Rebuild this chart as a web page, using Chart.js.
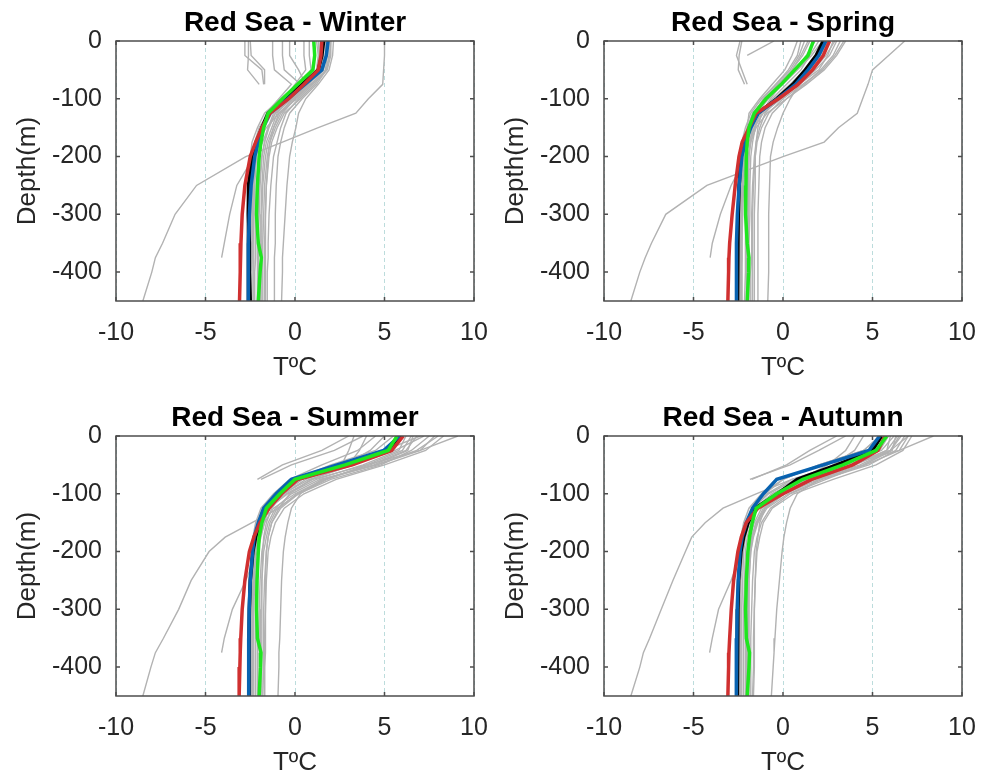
<!DOCTYPE html>
<html>
<head>
<meta charset="utf-8">
<script src="https://cdn.jsdelivr.net/npm/chart.js@4/dist/chart.umd.min.js"></script>
<style>
  body { margin: 0; background: #fff; width: 992px; height: 776px; position: relative; overflow: hidden; }
  canvas { position: absolute; }
</style>
</head>
<body>
<canvas id="winter" width="496" height="388" style="left:0;top:0"></canvas>
<canvas id="spring" width="496" height="388" style="left:488px;top:0"></canvas>
<canvas id="summer" width="496" height="388" style="left:0;top:395px"></canvas>
<canvas id="autumn" width="496" height="388" style="left:488px;top:395px"></canvas>
<script>
// depth levels (m) shared by every profile
const depths = [0, -25, -50, -75, -100, -125, -150, -175, -200, -250, -300, -350, -375, -400, -450];
const tempTicks = [-10, -5, 0, 5, 10];
const depthTicks = [0, -100, -200, -300, -400];

// Winter
const winterBlack = [1.6, 1.5, 1.3, 0.4, -0.55, -1.5, -1.85, -2.15, -2.4, -2.6, -2.6, -2.55, -2.55, -2.55, -2.5];
const winterBlue = [1.85, 1.75, 1.5, 0.55, -0.4, -1.4, -1.8, -2.05, -2.25, -2.45, -2.55, -2.6, -2.6, -2.6, -2.62];
const winterRed = [1.5, 1.45, 1.3, 0.5, -0.35, -1.4, -1.85, -2.2, -2.5, -2.8, -2.95, -3.02, -3.05, -3.07, -3.1];
const winterGreen = [1.05, 1.1, 1.0, 0.15, -0.7, -1.5, -1.75, -1.9, -2.0, -2.1, -2.15, -2.05, -1.88, -1.95, -2.05];
const winterGrey = [
  [5.0, 5.0, 4.95, 4.9, 4.1, 3.4, 1.3, -0.7, -2.75, -5.5, -6.7, -7.4, -7.8, -8.0, -8.5],
  [-2.8, -2.8, -1.85, -1.75, null, null, null, null, null, null, null, null, null, null, null],
  [-2.5, -2.45, -1.7, -1.7, null, null, null, null, null, null, null, null, null, null, null],
  [-2.6, -2.6, -2.65, -2.0, null, null, null, null, null, null, null, null, null, null, null],
  [-1.25, -1.25, -1.15, -0.2, -0.9, -1.6, -1.9, -2.1, -2.2, -2.3, -2.3, -2.35, -2.35, -2.35, -2.35],
  [-0.7, -0.7, -0.6, 0.3, -0.5, -1.3, -1.7, -1.9, -2.05, -2.15, -2.2, -2.2, -2.2, -2.25, -2.25],
  [-0.3, -0.3, 0.2, 0.6, -0.2, -1.1, -1.5, -1.7, -1.85, -1.95, -2.0, -2.05, -2.05, -2.05, -2.1],
  [1.2, 1.3, 1.2, 0.5, -0.3, -1.0, -1.3, -1.6, -1.75, -1.85, -1.9, -1.9, -1.9, -1.9, -1.95],
  [1.5, 1.5, 1.4, 0.8, 0.0, -0.7, -1.1, -1.4, -1.55, -1.7, -1.75, -1.8, -1.8, -1.8, -1.8],
  [2.0, 2.0, 1.8, 1.0, 0.2, -0.5, -0.8, -1.0, -1.2, -1.35, -1.45, -1.5, -1.5, -1.55, -1.55],
  [2.15, 2.1, 1.9, 1.3, 0.6, 0.2, 0.05, -0.15, -0.3, -0.45, -0.55, -0.65, -0.7, -0.7, -0.75],
  [1.7, 1.7, 1.6, 0.9, 0.1, -0.9, -1.6, -2.1, -2.4, -2.6, -2.7, -2.7, -2.7, -2.7, -2.7],
  [1.0, 1.1, 1.0, 0.2, -0.8, -1.7, -2.1, -2.4, -2.5, -2.55, -2.5, -2.5, -2.5, -2.5, -2.5],
  [1.4, 1.4, 1.3, 0.5, -0.3, -1.2, -1.5, -1.8, -2.3, -3.25, -3.65, -3.95, -4.1, null, null],
  [1.8, 1.8, 1.7, 1.1, 0.3, -0.6, -1.0, -1.3, -1.45, -1.6, -1.65, -1.7, -1.7, -1.7, -1.7],
  [0.5, 0.5, 0.6, 0.0, -0.6, -1.4, -1.9, -2.2, -2.3, -2.35, -2.4, -2.4, -2.4, -2.45, -2.45],
  [1.6, 1.6, 1.5, 0.7, -0.1, -0.9, -1.2, -1.4, -1.5, -1.6, -1.65, -1.65, -1.65, -1.65, -1.65],
  [1.9, 1.9, 1.75, 1.2, 0.4, -0.3, -0.6, -0.8, -0.95, -1.05, -1.1, -1.1, -1.15, -1.15, -1.15],
  [1.3, 1.35, 1.3, 0.6, -0.2, -1.1, -1.45, -1.7, -1.85, -2.0, -2.05, -2.1, -2.1, -2.1, -2.1],
  [1.75, 1.75, 1.55, 0.75, -0.1, -1.3, -1.75, -2.0, -2.15, -2.25, -2.3, -2.3, -2.3, -2.3, -2.3],
  [0.8, 0.8, 0.9, 0.3, -0.5, -1.5, -2.0, -2.25, -2.35, -2.45, -2.45, -2.45, -2.45, -2.5, -2.5],
  [2.0, 1.95, 1.75, 0.9, 0.0, -0.8, -1.2, -1.5, -1.65, -1.8, -1.85, -1.85, -1.9, -1.9, -1.9]
];

// Spring
const springBlack = [2.25, 1.85, 1.25, 0.55, -0.35, -1.4, -1.85, -2.2, -2.35, -2.45, -2.5, -2.52, -2.52, -2.55, -2.55];
const springBlue = [2.4, 2.0, 1.4, 0.7, -0.3, -1.4, -1.8, -2.1, -2.3, -2.45, -2.55, -2.6, -2.6, -2.6, -2.6];
const springRed = [2.6, 2.25, 1.65, 0.85, -0.25, -1.5, -1.9, -2.28, -2.46, -2.67, -2.84, -2.98, -3.02, -3.04, -3.08];
const springGreen = [1.7, 1.4, 0.65, -0.1, -0.95, -1.6, -1.9, -2.0, -2.05, -2.07, -2.09, -2.0, -1.9, -1.92, -2.0];
const springGrey = [
  [6.8, 5.9, 5.0, 4.75, 4.45, 4.15, 3.1, 2.3, 0.0, -4.25, -6.55, -7.35, -7.7, -8.0, -8.5],
  [1.0, 0.8, 0.3, -0.4, -1.1, -1.6, -1.8, -1.95, -2.05, -2.9, -3.5, -3.95, -4.07, null, null],
  [2.8, 2.5, 2.0, 0.9, 0.4, 0.0, -0.3, -0.55, -0.7, -0.75, -0.8, -0.8, -0.8, -0.8, -0.85],
  [3.5, 3.0, 2.3, 1.3, 0.2, -0.9, -1.5, -1.8, -1.95, -2.05, -2.1, -2.1, -2.1, -2.1, -2.15],
  [3.0, 2.6, 1.8, 0.9, -0.1, -1.1, -1.6, -1.9, -2.1, -2.2, -2.25, -2.3, -2.3, -2.3, -2.3],
  [2.2, 1.6, 0.8, 0.0, -0.8, -1.5, -1.9, -2.1, -2.25, -2.35, -2.4, -2.4, -2.4, -2.4, -2.4],
  [1.2, 0.9, 0.4, -0.4, -1.2, -1.8, -2.1, -2.3, -2.4, -2.5, -2.55, -2.55, -2.55, -2.55, -2.55],
  [0.8, 0.5, 0.1, -0.6, -1.3, -1.9, -2.0, -2.1, -2.2, -2.3, -2.3, -2.3, -2.3, -2.35, -2.35],
  [2.5, 2.1, 1.5, 0.6, -0.3, -1.0, -1.3, -1.5, -1.6, -1.7, -1.75, -1.75, -1.75, -1.8, -1.8],
  [1.8, 1.3, 0.7, -0.1, -0.7, -1.2, -1.4, -1.5, -1.55, -1.55, -1.6, -1.6, -1.6, -1.6, -1.6],
  [3.2, 2.8, 2.1, 1.2, 0.2, -0.6, -1.0, -1.2, -1.3, -1.35, -1.4, -1.4, -1.4, -1.4, -1.4],
  [-2.3, -2.45, -2.5, -2.15, null, null, null, null, null, null, null, null, null, null, null],
  [-2.4, -2.6, -2.3, -2.0, null, null, null, null, null, null, null, null, null, null, null],
  [-0.5, -2.0, null, null, null, null, null, null, null, null, null, null, null, null, null],
  [1.5, 1.1, 0.5, -0.2, -1.0, -1.6, -1.95, -2.15, -2.25, -2.3, -2.35, -2.4, -2.4, -2.4, -2.4],
  [2.6, 2.2, 1.6, 0.7, -0.5, -1.4, -1.7, -1.85, -1.9, -1.95, -1.95, -1.95, -1.95, -1.95, -1.95],
  [2.9, 2.4, 1.7, 0.8, -0.2, -1.2, -1.7, -2.0, -2.15, -2.25, -2.3, -2.3, -2.3, -2.3, -2.3],
  [2.0, 1.5, 1.0, 0.2, -0.6, -1.3, -1.6, -1.8, -1.9, -2.0, -2.0, -2.0, -2.05, -2.05, -2.05],
  [3.4, 2.9, 2.2, 1.1, 0.0, -0.8, -1.2, -1.45, -1.55, -1.65, -1.7, -1.7, -1.7, -1.7, -1.7],
  [1.4, 1.0, 0.5, -0.3, -1.0, -1.7, -2.0, -2.2, -2.3, -2.4, -2.45, -2.45, -2.45, -2.45, -2.45],
  [2.3, 1.9, 1.2, 0.4, -0.5, -1.3, -1.55, -1.7, -1.8, -1.85, -1.85, -1.9, -1.9, -1.9, -1.9]
];

// Summer
const summerBlack = [6.0, 5.3, 2.9, 0.1, -0.95, -1.6, -1.95, -2.2, -2.35, -2.5, -2.55, -2.57, -2.57, -2.57, -2.57];
const summerBlue = [5.85, 4.95, 2.35, -0.2, -1.05, -1.75, -2.05, -2.28, -2.37, -2.5, -2.56, -2.58, -2.58, -2.58, -2.6];
const summerRed = [6.05, 5.4, 3.2, 0.15, -0.75, -1.45, -1.95, -2.3, -2.55, -2.8, -2.95, -3.03, -3.06, -3.08, -3.12];
const summerGreen = [5.7, 5.2, 2.8, 0.0, -0.85, -1.6, -1.85, -2.0, -2.05, -2.12, -2.15, -2.1, -1.9, -1.93, -2.0];
const summerGrey = [
  [7.2, 5.6, 3.2, 0.9, -0.3, -0.9, -2.4, -3.9, -4.8, -5.8, -6.5, -7.35, -7.8, -8.05, -8.5],
  [3.0, 1.5, -0.7, -2.1, null, null, null, null, null, null, null, null, null, null, null],
  [3.8, 2.2, -0.2, -1.9, null, null, null, null, null, null, null, null, null, null, null],
  [6.0, 5.0, 2.5, 0.2, -0.8, -1.5, -1.7, -1.9, -2.1, -2.75, -3.5, -3.95, -4.1, null, null],
  [8.0, 6.8, 4.5, 1.5, 0.3, -0.2, -0.4, -0.55, -0.65, -0.75, -0.8, -0.85, -0.9, -0.9, -0.95],
  [6.2, 5.8, 3.8, 1.2, -0.4, -1.5, -1.9, -2.2, -2.35, -2.45, -2.5, -2.5, -2.5, -2.5, -2.5],
  [5.5, 4.5, 2.0, 0.0, -1.0, -1.8, -2.1, -2.3, -2.4, -2.45, -2.45, -2.45, -2.45, -2.45, -2.45],
  [7.5, 6.5, 4.8, 2.0, 0.2, -1.0, -1.4, -1.6, -1.75, -1.85, -1.9, -1.9, -1.9, -1.95, -1.95],
  [6.8, 6.2, 4.2, 1.6, 0.0, -1.2, -1.7, -1.95, -2.1, -2.2, -2.2, -2.2, -2.2, -2.2, -2.2],
  [4.5, 3.5, 1.5, -0.3, -1.2, -1.9, -2.2, -2.35, -2.45, -2.5, -2.55, -2.55, -2.55, -2.55, -2.55],
  [8.3, 7.3, 5.0, 2.3, 0.5, -0.6, -1.1, -1.35, -1.5, -1.6, -1.65, -1.7, -1.7, -1.7, -1.7],
  [5.0, 4.2, 2.8, 0.6, -0.6, -1.4, -1.8, -2.0, -2.05, -2.1, -2.1, -2.1, -2.1, -2.1, -2.1],
  [7.0, 5.0, 2.2, 0.4, -0.7, -1.3, -1.6, -1.75, -1.8, -1.85, -1.85, -1.85, -1.85, -1.85, -1.85],
  [9.1, 7.0, 4.0, 1.8, 0.2, -0.8, -1.3, -1.5, -1.6, -1.65, -1.65, -1.65, -1.65, -1.7, -1.7],
  [4.0, 3.6, 3.0, 0.2, -0.9, -1.6, -2.0, -2.2, -2.3, -2.35, -2.35, -2.35, -2.35, -2.4, -2.4],
  [6.5, 6.0, 4.0, 1.0, -0.5, -1.4, -1.8, -2.05, -2.2, -2.3, -2.35, -2.35, -2.35, -2.35, -2.35],
  [7.8, 7.0, 4.6, 1.4, -0.2, -1.1, -1.5, -1.7, -1.85, -1.95, -2.0, -2.0, -2.0, -2.0, -2.0],
  [5.8, 5.2, 3.3, 0.8, -0.7, -1.6, -2.0, -2.2, -2.3, -2.35, -2.4, -2.4, -2.4, -2.4, -2.45],
  [6.6, 6.3, 4.4, 1.7, 0.1, -0.9, -1.3, -1.5, -1.6, -1.7, -1.75, -1.75, -1.75, -1.75, -1.8],
  [3.3, 3.0, 2.6, 0.4, -0.8, -1.5, -1.9, -2.1, -2.2, -2.25, -2.3, -2.3, -2.3, -2.3, -2.3]
];

// Autumn
const autumnBlack = [5.5, 5.0, 3.0, 0.8, -0.3, -1.55, -1.95, -2.2, -2.35, -2.48, -2.52, -2.55, -2.55, -2.55, -2.55];
const autumnBlue = [5.4, 4.8, 2.25, -0.35, -1.1, -1.7, -2.05, -2.28, -2.4, -2.5, -2.56, -2.58, -2.6, -2.6, -2.62];
const autumnRed = [5.7, 5.3, 3.9, 1.6, 0.0, -1.4, -2.05, -2.33, -2.52, -2.76, -2.89, -2.98, -3.02, -3.04, -3.08];
const autumnGreen = [5.8, 5.2, 3.35, 1.1, -0.35, -1.5, -1.72, -1.87, -1.96, -2.05, -2.09, -2.05, -1.87, -1.9, -2.0];
const autumnGrey = [
  [8.4, 6.5, 3.5, 0.5, -1.5, -3.35, -4.35, -5.1, -5.45, -6.15, -6.8, -7.45, -7.8, -8.0, -8.5],
  [3.5, 2.0, 0.4, -1.85, null, null, null, null, null, null, null, null, null, null, null],
  [3.0, 1.5, 0.2, -1.75, null, null, null, null, null, null, null, null, null, null, null],
  [5.5, 4.5, 2.0, 0.0, -1.0, -1.7, -1.9, -2.1, -2.3, -2.9, -3.6, -3.95, -4.1, null, null],
  [6.5, 6.0, 4.5, 2.0, 0.8, 0.4, 0.2, 0.05, -0.05, -0.2, -0.35, -0.45, -0.5, -0.55, -0.65],
  [6.8, 6.3, 4.8, 2.2, 0.3, -0.9, -1.4, -1.65, -1.8, -1.9, -1.95, -1.95, -1.95, -1.95, -1.95],
  [6.2, 5.5, 3.0, 0.5, -0.9, -1.7, -2.0, -2.2, -2.3, -2.4, -2.4, -2.4, -2.4, -2.4, -2.4],
  [5.4, 4.5, 2.0, 0.0, -1.2, -1.9, -2.2, -2.35, -2.45, -2.5, -2.5, -2.5, -2.5, -2.5, -2.55],
  [7.2, 6.7, 5.2, 2.8, 0.6, -0.6, -1.1, -1.3, -1.45, -1.55, -1.6, -1.6, -1.6, -1.6, -1.65],
  [6.0, 5.8, 4.0, 1.4, -0.4, -1.4, -1.8, -2.0, -2.1, -2.15, -2.2, -2.2, -2.2, -2.2, -2.2],
  [5.6, 5.0, 3.5, 1.0, -0.6, -1.5, -1.9, -2.1, -2.2, -2.25, -2.3, -2.3, -2.3, -2.3, -2.3],
  [6.6, 6.0, 4.3, 1.8, 0.0, -1.1, -1.5, -1.75, -1.85, -1.95, -2.0, -2.0, -2.0, -2.0, -2.0],
  [4.0, 3.5, 2.5, 1.0, -0.3, -1.2, -1.6, -1.85, -2.0, -2.1, -2.1, -2.1, -2.1, -2.1, -2.1],
  [7.0, 6.0, 4.0, 1.2, -0.2, -1.0, -1.3, -1.4, -1.5, -1.55, -1.6, -1.65, -1.65, -1.65, -1.7],
  [6.4, 5.8, 3.8, 1.0, -0.6, -1.6, -1.95, -2.15, -2.25, -2.35, -2.35, -2.35, -2.35, -2.35, -2.35],
  [7.0, 6.5, 4.6, 2.0, 0.1, -1.0, -1.45, -1.7, -1.8, -1.9, -1.9, -1.9, -1.9, -1.9, -1.9],
  [5.9, 5.4, 3.2, 0.7, -0.8, -1.7, -2.05, -2.25, -2.35, -2.45, -2.45, -2.45, -2.45, -2.45, -2.45],
  [6.3, 6.1, 4.5, 2.4, 0.4, -0.7, -1.2, -1.45, -1.6, -1.7, -1.75, -1.8, -1.8, -1.8, -1.8],
  [4.5, 4.0, 2.8, 1.3, 0.1, -1.0, -1.5, -1.75, -1.9, -2.0, -2.05, -2.05, -2.05, -2.05, -2.05]
];

const fontFamily = "'Liberation Sans', Arial, sans-serif";
const textColor = '#262626';

// turn a temperature profile into scatter points, skipping missing levels
function profile(temps) {
    return depths.map((d, i) => ({x: temps[i], y: d})).filter(p => p.x !== null);
}

function line(temps, color, width, order) {
    return {
        data: profile(temps),
        borderColor: color,
        borderWidth: width,
        showLine: true,
        pointRadius: 0,
        fill: false,
        clip: 0,
        order: order
    };
}

// MATLAB style box with inward ticks on all four sides
const framePlugin = {
    id: 'frame',
    afterDatasetsDraw(chart) {
        const {ctx, chartArea: a, scales: {x, y}} = chart;
        ctx.save();
        ctx.strokeStyle = '#4d4d4d';
        ctx.lineWidth = 1.5;
        ctx.strokeRect(a.left, a.top, a.right - a.left, a.bottom - a.top);
        ctx.beginPath();
        tempTicks.forEach(v => {
            const px = x.getPixelForValue(v);
            ctx.moveTo(px, a.bottom);
            ctx.lineTo(px, a.bottom - 4);
            ctx.moveTo(px, a.top);
            ctx.lineTo(px, a.top + 4);
        });
        depthTicks.forEach(v => {
            const py = y.getPixelForValue(v);
            ctx.moveTo(a.left, py);
            ctx.lineTo(a.left + 4, py);
            ctx.moveTo(a.right, py);
            ctx.lineTo(a.right - 4, py);
        });
        ctx.stroke();
        ctx.restore();
    }
};

function makeChart(id, season, grey, black, blue, red, green) {
    const datasets = grey.map(g => line(g, 'rgb(178,178,178)', 1.4, 5));
    datasets.push(line(black, '#000000', 3.5, 4));
    datasets.push(line(blue, '#0862b0', 3.5, 3));
    datasets.push(line(red, '#d03030', 3.5, 2));
    datasets.push(line(green, '#1ee61e', 3.5, 1));

    return new Chart(document.getElementById(id), {
        type: 'scatter',
        data: {datasets: datasets},
        options: {
            responsive: false,
            animation: false,
            events: [],
            layout: {padding: {left: 0, right: 22, top: 0, bottom: 0}},
            plugins: {
                legend: {display: false},
                tooltip: {enabled: false},
                title: {
                    display: true,
                    text: 'Red Sea - ' + season,
                    fullSize: false,
                    color: '#000',
                    font: {family: fontFamily, size: 28, weight: 'bold', lineHeight: 1.2},
                    padding: {top: 6, bottom: 1.4}
                }
            },
            scales: {
                x: {
                    type: 'linear',
                    min: -10,
                    max: 10,
                    afterBuildTicks: s => { s.ticks = tempTicks.map(v => ({value: v})); },
                    afterFit: s => { s.height = 87; s.paddingLeft = 0; s.paddingRight = 0; },
                    ticks: {color: textColor, font: {family: fontFamily, size: 25}, padding: 17, maxRotation: 0},
                    grid: {color: '#bcdcdc', drawTicks: false, lineWidth: 1},
                    border: {display: false, dash: [4, 3]},
                    title: {display: true, text: 'TºC', color: textColor,
                        font: {family: fontFamily, size: 26, lineHeight: 1.2}, padding: {top: 0, bottom: 5}}
                },
                y: {
                    type: 'linear',
                    min: -450,
                    max: 0,
                    afterBuildTicks: s => { s.ticks = depthTicks.map(v => ({value: v})); },
                    afterFit: s => { s.width = 116; s.paddingTop = 0; s.paddingBottom = 0; },
                    ticks: {color: textColor, font: {family: fontFamily, size: 25}, padding: 14},
                    grid: {display: false, drawTicks: false},
                    border: {display: false},
                    title: {display: true, text: 'Depth(m)', color: textColor,
                        font: {family: fontFamily, size: 26, lineHeight: 1.2}, padding: {top: 12, bottom: 0}}
                }
            }
        },
        plugins: [framePlugin]
    });
}

makeChart('winter', 'Winter', winterGrey, winterBlack, winterBlue, winterRed, winterGreen);
makeChart('spring', 'Spring', springGrey, springBlack, springBlue, springRed, springGreen);
makeChart('summer', 'Summer', summerGrey, summerBlack, summerBlue, summerRed, summerGreen);
makeChart('autumn', 'Autumn', autumnGrey, autumnBlack, autumnBlue, autumnRed, autumnGreen);
</script>
</body>
</html>
